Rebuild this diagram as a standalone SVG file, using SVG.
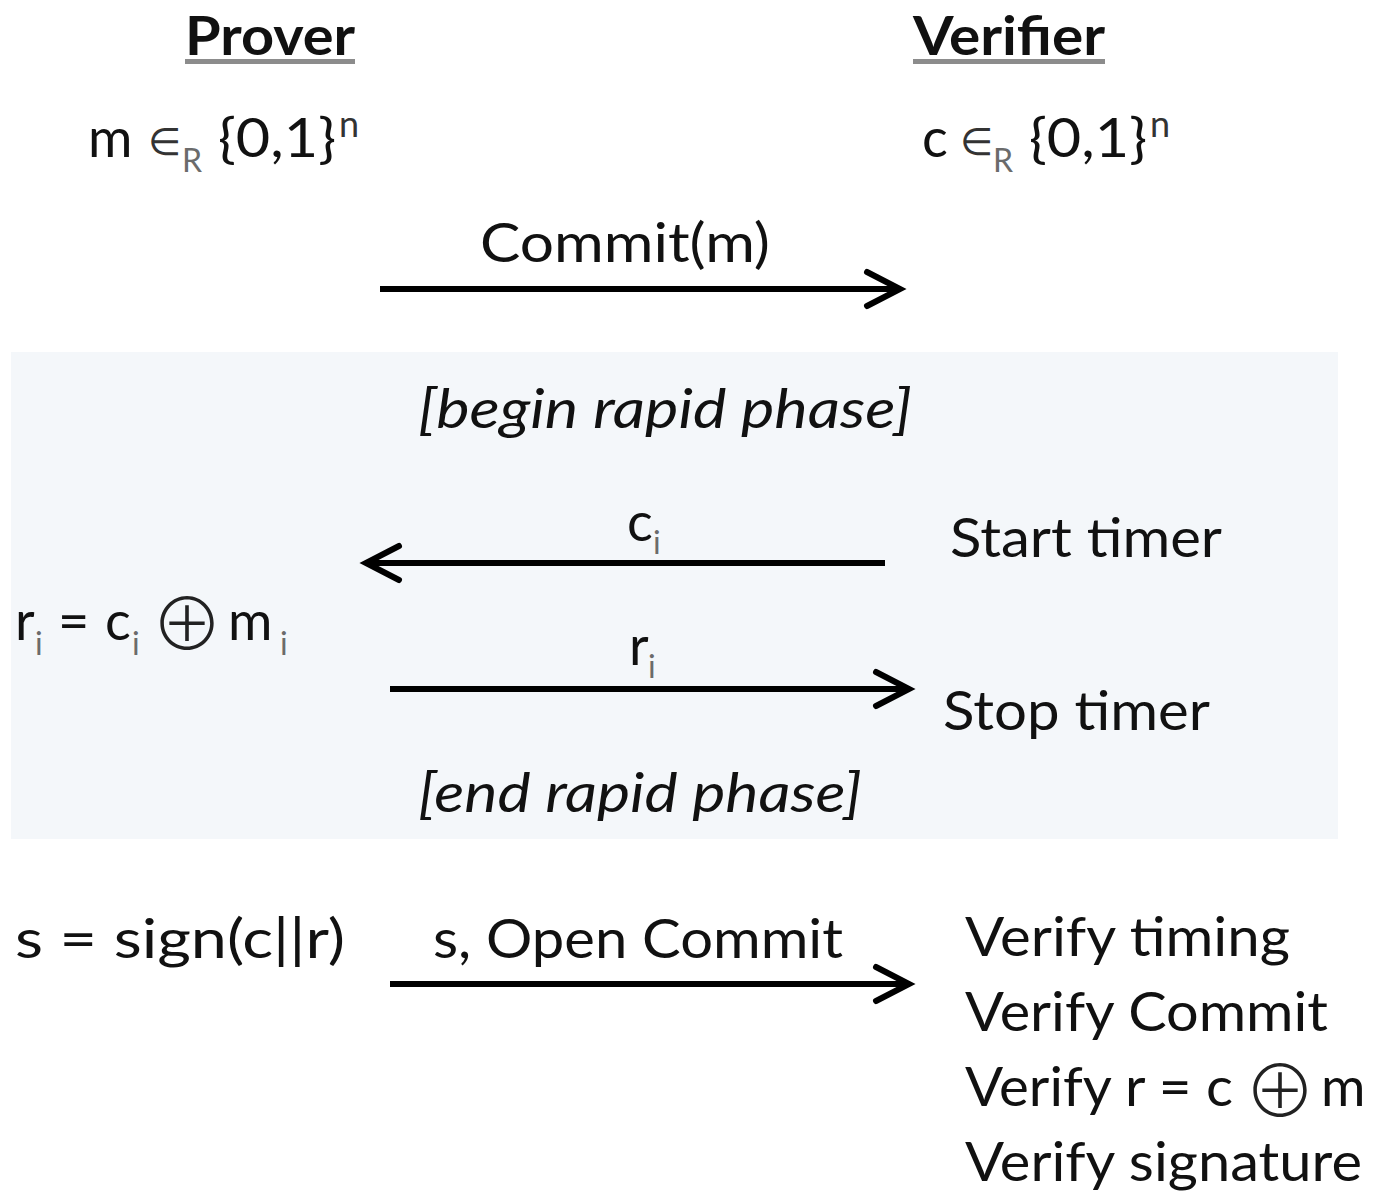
<svg xmlns="http://www.w3.org/2000/svg" width="1373" height="1194" viewBox="0 0 1373 1194">
<style>
.t{font-family:Lato,"Open Sans","Liberation Sans",sans-serif;font-size:54px;fill:#111}
.b{font-weight:bold}
.i{font-style:italic}
.sub{font-size:32px;fill:#6b6b6b}
.sup{font-size:36px;fill:#333}
.sym{font-family:"DejaVu Sans",sans-serif;fill:#333}
.xor{font-family:"Noto Sans CJK SC","DejaVu Sans",sans-serif;font-weight:300;fill:#222;font-size:72px}
.ul{fill:#8c8c8c}
.conn line{stroke:#000;stroke-width:6;marker-end:url(#ah)}
</style>
<defs>
<marker id="ah" markerUnits="userSpaceOnUse" markerWidth="60" markerHeight="60" viewBox="-45 -30 60 60" refX="0" refY="0" orient="auto">
<path d="M-33,-17 L0,0 L-33,17" fill="none" stroke="#000" stroke-width="6" stroke-linecap="round"/>
</marker>
</defs>
<rect width="1373" height="1194" fill="#fff"/>
<rect id="rapid-phase" x="11" y="352" width="1327" height="487" fill="#f4f7fa"/>

<g id="prover">
<text class="t b" x="185" y="55" textLength="170" lengthAdjust="spacingAndGlyphs">Prover</text>
<rect class="ul" x="185" y="59" width="170" height="5"/>
</g>
<g id="verifier">
<text class="t b" x="913" y="55" textLength="192" lengthAdjust="spacingAndGlyphs">Verifier</text>
<rect class="ul" x="913" y="59" width="192" height="5"/>
</g>

<g id="prover-init">
<text class="t"><tspan x="88" y="157">m</tspan><tspan class="sym" x="148" y="155" font-size="38">∈</tspan><tspan class="sub" x="182" y="172">R</tspan><tspan x="218" y="157" textLength="118" lengthAdjust="spacingAndGlyphs">{0,1}</tspan><tspan class="sup" x="339" y="137">n</tspan></text>
</g>
<g id="verifier-init">
<text class="t"><tspan x="922" y="157">c</tspan><tspan class="sym" x="960" y="155" font-size="38">∈</tspan><tspan class="sub" x="993" y="172">R</tspan><tspan x="1029" y="157" textLength="118" lengthAdjust="spacingAndGlyphs">{0,1}</tspan><tspan class="sup" x="1150" y="137">n</tspan></text>
</g>

<g id="commit-label">
<text class="t" x="480" y="262" textLength="290" lengthAdjust="spacingAndGlyphs">Commit(m)</text>
</g>

<g id="begin-rapid">
<text class="t i" x="418" y="428" textLength="494" lengthAdjust="spacingAndGlyphs">[begin rapid phase]</text>
</g>
<g id="ci-label">
<text class="t"><tspan x="627" y="541">c</tspan><tspan class="sub" x="653" y="554">i</tspan></text>
</g>
<g id="start-timer">
<text class="t" x="950" y="557" textLength="272" lengthAdjust="spacingAndGlyphs">Start timer</text>
</g>
<g id="ri-compute">
<text class="t"><tspan x="15" y="640">r</tspan><tspan class="sub" x="35" y="655">i</tspan><tspan x="58" y="640">=</tspan><tspan x="105" y="640">c</tspan><tspan class="sub" x="132" y="655">i</tspan><tspan class="xor" x="151" y="650">⊕</tspan><tspan x="228" y="640">m</tspan><tspan class="sub" x="280" y="655">i</tspan></text>
</g>
<g id="ri-label">
<text class="t"><tspan x="629" y="665">r</tspan><tspan class="sub" x="648" y="678">i</tspan></text>
</g>
<g id="stop-timer">
<text class="t" x="943" y="730" textLength="267" lengthAdjust="spacingAndGlyphs">Stop timer</text>
</g>
<g id="end-rapid">
<text class="t i" x="418" y="812" textLength="444" lengthAdjust="spacingAndGlyphs">[end rapid phase]</text>
</g>

<g id="sign">
<text class="t" x="15" y="958" textLength="330" lengthAdjust="spacingAndGlyphs">s = sign(c||r)</text>
</g>
<g id="open-label">
<text class="t" x="433" y="958" textLength="410" lengthAdjust="spacingAndGlyphs">s, Open Commit</text>
</g>
<g id="verify">
<text class="t" x="965" y="956" textLength="325" lengthAdjust="spacingAndGlyphs">Verify timing</text>
<text class="t" x="965" y="1031" textLength="363" lengthAdjust="spacingAndGlyphs">Verify Commit</text>
<text class="t"><tspan x="965" y="1106" textLength="268" lengthAdjust="spacingAndGlyphs">Verify r = c</tspan><tspan class="xor" x="1244" y="1117">⊕</tspan><tspan x="1321" y="1106">m</tspan></text>
<text class="t" x="965" y="1181" textLength="397" lengthAdjust="spacingAndGlyphs">Verify signature</text>
</g>

<g id="connectors" class="conn">
<line x1="380" y1="289" x2="900" y2="289"/>
<line x1="885" y1="563" x2="366" y2="563"/>
<line x1="390" y1="689" x2="909" y2="689"/>
<line x1="390" y1="984" x2="909" y2="984"/>
</g>
</svg>
